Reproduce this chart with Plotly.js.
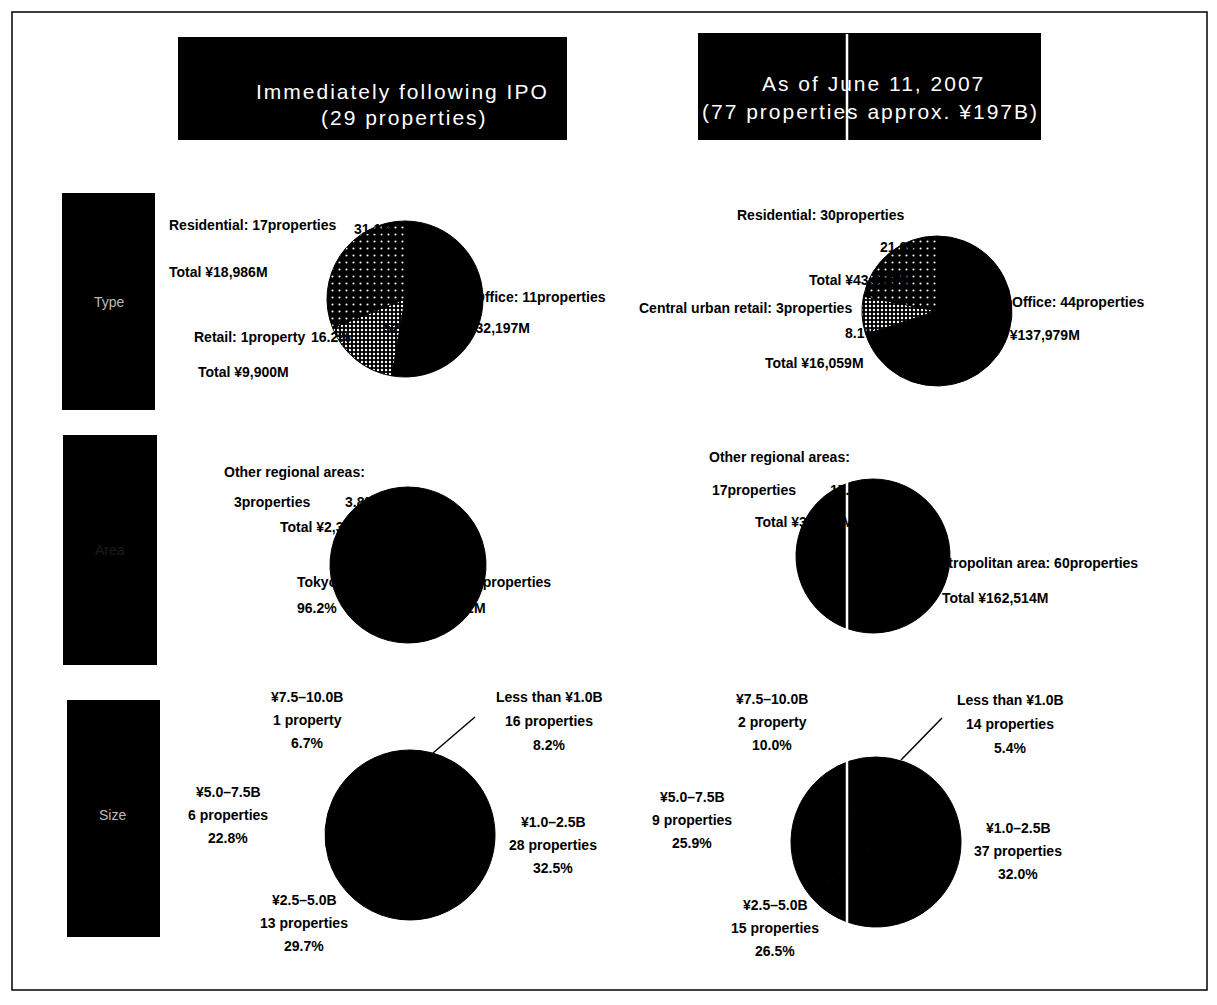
<!DOCTYPE html>
<html><head><meta charset="utf-8">
<script src="https://cdn.plot.ly/plotly-3.0.1.min.js"></script>
<style>
html,body{margin:0;padding:0;background:#fff}
#chart{width:1217px;height:1005px}
.annotation[data-index="0"] text,.annotation[data-index="1"] text,
.annotation[data-index="2"] text,.annotation[data-index="3"] text{letter-spacing:2px}
</style>
</head><body><div id="chart"></div>
<script>
// ---------------- data ----------------
const headerIPO = ['Immediately following IPO', '(29 properties)'];
const headerNow = ['As of June 11, 2007', '(77 properties approx. ¥197B)'];
const rowLabels = ['Type', 'Area', 'Size'];

const typeLabelsIPO = ['Office', 'Retail', 'Residential'];
const typeCountsIPO = [11, 1, 17];
const typeValuesIPO = [32197, 9900, 18986];

const typeLabelsNow = ['Office', 'Central urban retail', 'Residential'];
const typeCountsNow = [44, 3, 30];
const typeValuesNow = [137979, 16059, 43052];

const areaLabels = ['Tokyo metropolitan area', 'Other regional areas'];
const areaCountsIPO = [26, 3];
const areaValuesIPO = [58762, 2321];
const areaCountsNow = [60, 17];
const areaValuesNow = [162514, 34576];

const sizeLabels = ['Less than ¥1.0B', '¥1.0–2.5B', '¥2.5–5.0B', '¥5.0–7.5B', '¥7.5–10.0B'];
const sizeCountsIPO = [16, 28, 13, 6, 1];
const sizeSharesIPO = [8.2, 32.5, 29.7, 22.8, 6.7];
const sizeUnitsIPO = ['properties', 'properties', 'properties', 'properties', 'property'];
const sizeCountsNow = [14, 37, 15, 9, 2];
const sizeSharesNow = [5.4, 32.0, 26.5, 25.9, 10.0];
const sizeUnitsNow = ['properties', 'properties', 'properties', 'properties', 'property'];

// ---------------- helpers ----------------
const W = 1217, H = 1005;
const px = x => x / W;
const py = y => 1 - y / H;
const pct = (v, arr) => (100 * v / arr.reduce((a, b) => a + b, 0)).toFixed(1) + '%';
const yen = v => '¥' + v.toLocaleString('en-US') + 'M';
const props = n => n + (n === 1 ? 'property' : 'properties');

const FONT = 'Liberation Sans, Arial, Helvetica, sans-serif';
const annotations = [];
function ann(text, x, y, anchor, extra) {
  annotations.push(Object.assign({
    text: text, xref: 'paper', yref: 'paper', x: px(x), y: py(y),
    xanchor: anchor || 'left', yanchor: 'middle', showarrow: false,
    font: {family: FONT, size: 14, color: '#000', weight: 'bold'}
  }, extra || {}));
}

function pie(values, labels, cx, cy, r, pattern) {
  const marker = {colors: values.map(() => '#000'), line: {color: '#000', width: 1}};
  if (pattern) marker.pattern = pattern;
  return {
    type: 'pie', values: values, labels: labels, sort: false, direction: 'clockwise',
    rotation: 0, textinfo: 'none', hoverinfo: 'skip', showlegend: false, marker: marker,
    domain: {x: [px(cx - r), px(cx + r)], y: [py(cy + r), py(cy - r)]}
  };
}

const speckle = {shape: ['', '.', '.'], fgcolor: '#fff', bgcolor: '#000',
                 size: [6, 4, 7], solidity: [0.1, 0.28, 0.07]};

const traces = [
  pie(typeValuesIPO, typeLabelsIPO, 405, 299, 78, speckle),
  pie(typeValuesNow, typeLabelsNow, 937, 311, 75, speckle),
  pie(areaValuesIPO, areaLabels, 408, 565, 78),
  pie(areaValuesNow, areaLabels, 873, 556, 77),
  pie(sizeSharesIPO, sizeLabels, 410, 835, 85),
  pie(sizeSharesNow, sizeLabels, 876, 842, 85)
];

// ---------------- text ----------------
const hdrFont = {family: FONT, size: 21, color: '#fff'};
ann(headerIPO[0], 402, 91, 'center', {font: hdrFont});
ann(headerIPO[1], 404, 118, 'center', {font: hdrFont});
ann(headerNow[0], 874, 84, 'center', {font: hdrFont});
ann(headerNow[1], 870, 111, 'center', {font: hdrFont});

const rowFont = {family: FONT, size: 14, color: '#bbb'};
ann(rowLabels[0], 110, 302, 'center', {font: rowFont});
ann(rowLabels[1], 110, 550, 'center', {font: {family: FONT, size: 14, color: '#1c1c1c'}});
ann(rowLabels[2], 113, 815, 'center', {font: rowFont});

// Type, IPO
ann(typeLabelsIPO[2] + ': ' + props(typeCountsIPO[2]), 167, 225);
ann(pct(typeValuesIPO[2], typeValuesIPO), 352, 229);
ann('Total ' + yen(typeValuesIPO[2]), 167, 272);
ann(typeLabelsIPO[0] + ': ' + props(typeCountsIPO[0]), 472, 297);
ann(pct(typeValuesIPO[0], typeValuesIPO) + '  Total ' + yen(typeValuesIPO[0]), 532, 328, 'right');
ann(typeLabelsIPO[1] + ': ' + props(typeCountsIPO[1]), 192, 337);
ann(pct(typeValuesIPO[1], typeValuesIPO), 309, 337);
ann('Total ' + yen(typeValuesIPO[1]), 196, 372);

// Type, now
ann(typeLabelsNow[2] + ': ' + props(typeCountsNow[2]), 735, 215);
ann(pct(typeValuesNow[2], typeValuesNow), 878, 247);
ann('Total ' + yen(typeValuesNow[2]), 807, 280);
ann(typeLabelsNow[1] + ': ' + props(typeCountsNow[1]), 637, 308);
ann(pct(typeValuesNow[1], typeValuesNow), 843, 333);
ann('Total ' + yen(typeValuesNow[1]), 763, 363);
ann(typeLabelsNow[0] + ': ' + props(typeCountsNow[0]), 1010, 302);
ann(pct(typeValuesNow[0], typeValuesNow) + '  Total ' + yen(typeValuesNow[0]), 1082, 335, 'right');

// Area, IPO
ann(areaLabels[1] + ':', 222, 472);
ann(props(areaCountsIPO[1]), 232, 502);
ann(pct(areaValuesIPO[1], areaValuesIPO), 343, 502);
ann('Total ' + yen(areaValuesIPO[1]), 278, 527);
ann(areaLabels[0] + ': ' + props(areaCountsIPO[0]), 295, 582);
ann(pct(areaValuesIPO[0], areaValuesIPO), 295, 608);
ann('Total ' + yen(areaValuesIPO[0]), 488, 608, 'right');

// Area, now
ann(areaLabels[1] + ':', 707, 457);
ann(props(areaCountsNow[1]), 710, 490);
ann(pct(areaValuesNow[1], areaValuesNow), 828, 490);
ann('Total ' + yen(areaValuesNow[1]), 753, 522);
ann(areaLabels[0] + ': ' + props(areaCountsNow[0]), 1140, 563, 'right');
ann(pct(areaValuesNow[0], areaValuesNow), 853, 598);
ann('Total ' + yen(areaValuesNow[0]), 1050, 598, 'right');

// Size labels (three lines each)
function sizeBlock(i, counts, shares, units, x, y0, dy) {
  ann(sizeLabels[i], x, y0, 'center');
  ann(counts[i] + ' ' + units[i], x, y0 + dy, 'center');
  ann(shares[i].toFixed(1) + '%', x, y0 + 2 * dy, 'center');
}
sizeBlock(0, sizeCountsIPO, sizeSharesIPO, sizeUnitsIPO, 549, 697, 24);
sizeBlock(1, sizeCountsIPO, sizeSharesIPO, sizeUnitsIPO, 553, 822, 23);
sizeBlock(2, sizeCountsIPO, sizeSharesIPO, sizeUnitsIPO, 304, 900, 23);
sizeBlock(3, sizeCountsIPO, sizeSharesIPO, sizeUnitsIPO, 228, 792, 23);
sizeBlock(4, sizeCountsIPO, sizeSharesIPO, sizeUnitsIPO, 307, 697, 23);

sizeBlock(0, sizeCountsNow, sizeSharesNow, sizeUnitsNow, 1010, 700, 24);
sizeBlock(1, sizeCountsNow, sizeSharesNow, sizeUnitsNow, 1018, 828, 23);
sizeBlock(2, sizeCountsNow, sizeSharesNow, sizeUnitsNow, 775, 905, 23);
sizeBlock(3, sizeCountsNow, sizeSharesNow, sizeUnitsNow, 692, 797, 23);
sizeBlock(4, sizeCountsNow, sizeSharesNow, sizeUnitsNow, 772, 699, 23);

// ---------------- shapes ----------------
function rect(x0, y0, x1, y1, fill, lineColor, layer) {
  return {type: 'rect', xref: 'paper', yref: 'paper', x0: px(x0), x1: px(x1), y0: py(y1), y1: py(y0),
          fillcolor: fill, line: {color: lineColor || fill, width: lineColor ? 1.5 : 0}, layer: layer || 'below'};
}
function line(x0, y0, x1, y1, color, width) {
  return {type: 'line', xref: 'paper', yref: 'paper', x0: px(x0), x1: px(x1), y0: py(y0), y1: py(y1),
          line: {color: color, width: width}, layer: 'above'};
}
const shapes = [
  rect(12, 12, 1207, 990, 'rgba(0,0,0,0)', '#000'),
  rect(178, 37, 567, 140, '#000'),
  rect(698, 33, 1041, 140, '#000'),
  rect(62, 193, 155, 410, '#000'),
  rect(63, 435, 157, 665, '#000'),
  rect(67, 700, 160, 937, '#000'),
  line(475, 717, 433, 753, '#000', 1.5),
  line(942, 718, 901, 760, '#000', 1.5),
  line(847, 34, 847, 960, '#fff', 2.5)
];

const layout = {
  width: W, height: H, margin: {l: 0, r: 0, t: 0, b: 0},
  paper_bgcolor: '#fff', plot_bgcolor: '#fff',
  showlegend: false, shapes: shapes, annotations: annotations
};
Plotly.newPlot('chart', traces, layout, {displayModeBar: false, staticPlot: true});
</script>
</body></html>
